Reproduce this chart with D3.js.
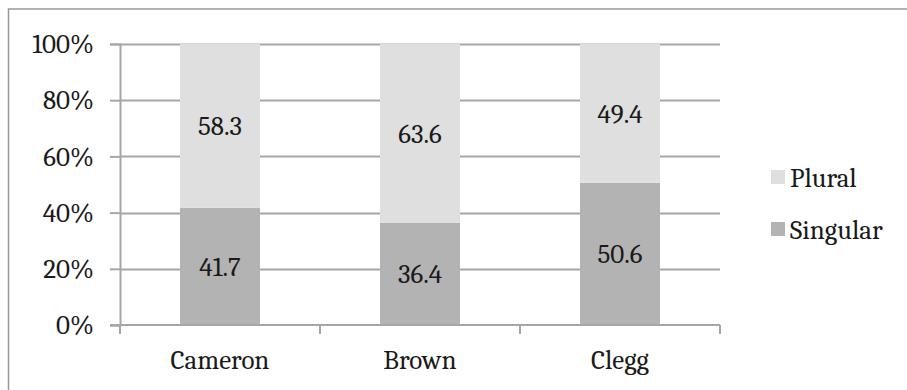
<!DOCTYPE html>
<html>
<head>
<meta charset="utf-8">
<script src="https://cdn.jsdelivr.net/npm/d3@7"></script>
<style>
  html, body { margin: 0; padding: 0; background: #fff; }
</style>
</head>
<body>
<svg id="chart" width="907" height="390"></svg>
<script>
// Share of singular vs plural usage per speaker (percent)
const categories = ["Cameron", "Brown", "Clegg"];
const singular = [41.7, 36.4, 50.6];
const plural = [58.3, 63.6, 49.4];
const seriesNames = ["Singular", "Plural"];
const yTicks = [0, 0.2, 0.4, 0.6, 0.8, 1.0];

const colors = { Singular: "#b3b3b3", Plural: "#dfdfdf" };
const gridColor = "#a6a6a6";
const textColor = "#1a1a1a";
const fontSize = 27;
const fontFamily = "'Cambria', 'Caladea', 'Liberation Serif', serif";

const svg = d3.select("#chart");
const W = 907, H = 390;
const plot = { left: 120, right: 720, top: 44, bottom: 325 };

// Chart frame
svg.append("rect")
  .attr("x", 8.5).attr("y", 9)
  .attr("width", W + 10).attr("height", H + 10)
  .attr("fill", "none").attr("stroke", "#999").attr("stroke-width", 1.5);

const x = d3.scaleBand().domain(categories)
  .range([plot.left, plot.right]).paddingInner(0.6).paddingOuter(0.3);
const xOuter = d3.scaleBand().domain(categories).range([plot.left, plot.right]);
const y = d3.scaleLinear().domain([0, 1]).range([plot.bottom, plot.top]);

// Horizontal gridlines
svg.append("g").selectAll("line").data(yTicks.filter(t => t > 0)).join("line")
  .attr("x1", plot.left).attr("x2", plot.right)
  .attr("y1", d => Math.round(y(d)) + 0.5).attr("y2", d => Math.round(y(d)) + 0.5)
  .attr("stroke", gridColor).attr("stroke-width", 2);

// Stacked bars
const rows = categories.map((c, i) => ({ cat: c, Singular: singular[i] / 100, Plural: plural[i] / 100 }));
const stack = d3.stack().keys(seriesNames)(rows);

const layers = svg.append("g").selectAll("g").data(stack).join("g")
  .attr("fill", d => colors[d.key]);
layers.selectAll("rect").data(d => d).join("rect")
  .attr("x", d => x(d.data.cat))
  .attr("width", x.bandwidth())
  .attr("y", d => y(d[1]))
  .attr("height", d => y(d[0]) - y(d[1]));

// Value labels, centered in each segment
const valueOf = { Singular: singular, Plural: plural };
layers.selectAll("text").data((d) => d.map((s, i) => ({ s, key: d.key, i }))).join("text")
  .attr("x", d => x(d.s.data.cat) + x.bandwidth() / 2)
  .attr("y", d => (y(d.s[0]) + y(d.s[1])) / 2)
  .attr("dy", "0.35em")
  .attr("text-anchor", "middle")
  .attr("fill", textColor)
  .attr("font-size", fontSize)
  .style("font-family", fontFamily)
  .text(d => valueOf[d.key][d.i].toFixed(1));

// Y axis
const yAxis = d3.axisLeft(y).tickValues(yTicks).tickFormat(d3.format(".0%"))
  .tickSize(10).tickPadding(16);
const gy = svg.append("g").attr("transform", `translate(${plot.left},0)`).call(yAxis);
gy.select(".domain").attr("stroke", gridColor).attr("stroke-width", 2);
gy.selectAll(".tick line").attr("stroke", gridColor).attr("stroke-width", 2);
gy.selectAll(".tick text").attr("font-size", fontSize).attr("fill", textColor)
  .style("font-family", fontFamily);

// X axis with ticks at category boundaries
const gx = svg.append("g").attr("transform", `translate(0,${plot.bottom})`);
gx.append("line").attr("x1", plot.left - 10).attr("x2", plot.right)
  .attr("y1", 0).attr("y2", 0).attr("stroke", gridColor).attr("stroke-width", 2);
const boundaries = categories.map(c => xOuter(c)).concat([plot.right]);
gx.selectAll("line.tk").data(boundaries).join("line").attr("class", "tk")
  .attr("x1", d => d).attr("x2", d => d).attr("y1", 0).attr("y2", 9)
  .attr("stroke", gridColor).attr("stroke-width", 2);
gx.selectAll("text").data(categories).join("text")
  .attr("x", d => xOuter(d) + xOuter.bandwidth() / 2)
  .attr("y", 35)
  .attr("dy", "0.35em")
  .attr("text-anchor", "middle")
  .attr("font-size", fontSize).attr("fill", textColor)
  .style("font-family", fontFamily)
  .text(d => d);

// Legend
const legend = svg.append("g").attr("transform", "translate(771,0)");
const legendItems = [{ key: "Plural", cy: 178 }, { key: "Singular", cy: 230 }];
const li = legend.selectAll("g").data(legendItems).join("g")
  .attr("transform", d => `translate(0,${d.cy})`);
li.append("rect").attr("x", 0).attr("y", -8).attr("width", 14).attr("height", 14)
  .attr("fill", d => colors[d.key]);
li.append("text").attr("x", 19).attr("y", 0).attr("dy", "0.35em")
  .attr("font-size", fontSize).attr("fill", textColor)
  .style("font-family", fontFamily).text(d => d.key);
</script>
</body>
</html>
